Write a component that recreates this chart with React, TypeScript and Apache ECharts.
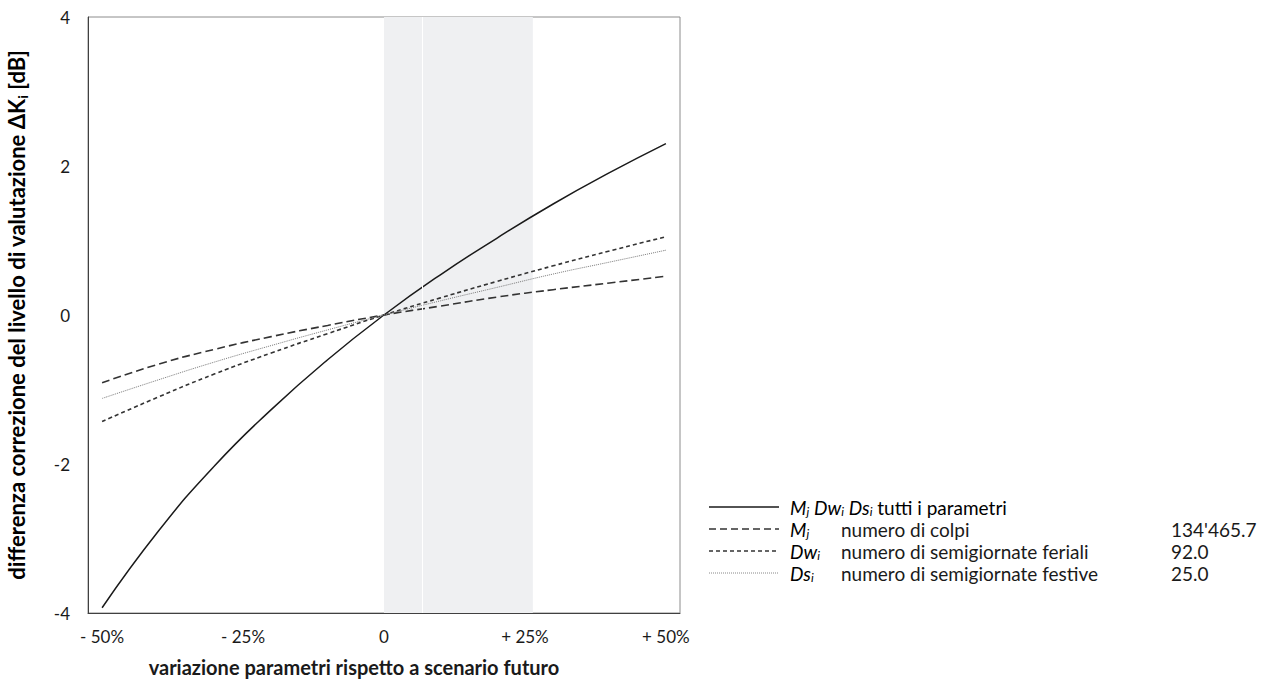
import React, { useEffect, useRef } from "react";
import * as echarts from "echarts";

const xValues = [-50, -40, -30, -20, -10, 0, 10, 20, 30, 40, 50];
const allParams = [-3.93, -2.9, -2.02, -1.27, -0.6, 0, 0.54, 1.03, 1.49, 1.91, 2.3];
const mjValues = [-0.91, -0.66, -0.46, -0.29, -0.14, 0, 0.12, 0.24, 0.34, 0.43, 0.52];
const dwValues = [-1.43, -1.1, -0.79, -0.51, -0.25, 0, 0.23, 0.45, 0.66, 0.86, 1.05];
const dsValues = [-1.12, -0.87, -0.63, -0.41, -0.2, 0, 0.19, 0.37, 0.55, 0.71, 0.87];
const xTicks = [-50, -25, 0, 25, 50];
const xTickLabels = ["- 50%", "- 25%", "0", "+ 25%", "+ 50%"];
const bandRange = [0, 26.4];
const bandDivider = 6.7;
const legendValues = ["", "134'465.7", "92.0", "25.0"];

const FONT = "Lato, 'Open Sans', sans-serif";
const LF = 19;

export default function App() {
  const ref = useRef<HTMLDivElement>(null);
  useEffect(() => {
    if (!ref.current) return;
    const chart = echarts.init(ref.current, null, { renderer: "svg" });
    const pts = (ys: number[]) => xValues.map((x, i) => [x, ys[i]]);
    const rich = {
      it: { fontStyle: "italic", fontSize: LF, fontFamily: FONT, color: "#1a1a1a", lineHeight: 20, verticalAlign: "middle" },
      sub: { fontStyle: "italic", fontSize: 12, fontFamily: FONT, color: "#1a1a1a", lineHeight: 6, verticalAlign: "bottom" },
      n: { fontSize: LF, fontFamily: FONT, color: "#1a1a1a", lineHeight: 20, verticalAlign: "middle" },
    };
    const rowY = [507, 529, 551, 573];
    const lineStyles = [
      { stroke: "#1a1a1a", lineWidth: 1.3, lineDash: null },
      { stroke: "#333", lineWidth: 1.3, lineDash: [7, 4] },
      { stroke: "#333", lineWidth: 1.3, lineDash: [4, 3] },
      { stroke: "#888", lineWidth: 1, lineDash: [1, 1] },
    ];
    const symbols = [
      "{it|M}{sub|j}{n| }{it|Dw}{sub|i}{n| }{it|Ds}{sub|i}{n| tutti i parametri}",
      "{it|M}{sub|j}",
      "{it|Dw}{sub|i}",
      "{it|Ds}{sub|i}",
    ];
    const descs = ["", "numero di colpi", "numero di semigiornate feriali", "numero di semigiornate festive"];
    const legendEls: any[] = [];
    rowY.forEach((y, i) => {
      legendEls.push({
        type: "line",
        shape: { x1: 709, y1: y, x2: 779, y2: y },
        style: { ...lineStyles[i], lineDash: lineStyles[i].lineDash || undefined },
      });
      legendEls.push({
        type: "text",
        x: 790,
        y: y,
        style: { text: symbols[i], rich, verticalAlign: "middle", align: "left" },
      });
      if (descs[i]) {
        legendEls.push({
          type: "text",
          x: 841,
          y: y,
          style: { text: descs[i], fontSize: LF, fontFamily: FONT, fill: "#1a1a1a", verticalAlign: "middle" },
        });
      }
      if (legendValues[i]) {
        legendEls.push({
          type: "text",
          x: 1171,
          y: y,
          style: { text: legendValues[i], fontSize: LF, fontFamily: FONT, fill: "#1a1a1a", verticalAlign: "middle" },
        });
      }
    });

    const lineSeries = (name: string, data: number[], color: string, width: number, type: any) => ({
      name,
      type: "line",
      data: pts(data),
      smooth: true,
      showSymbol: false,
      z: 3,
      lineStyle: { color, width, type },
    });

    chart.setOption({
      animation: false,
      backgroundColor: "#fff",
      grid: { left: 88, right: 590, top: 17, bottom: 68, show: true, borderColor: "#8c8c8c", borderWidth: 1 },
      xAxis: {
        type: "value",
        min: -52.5,
        max: 52.5,
        axisLine: { show: true, onZero: false, lineStyle: { color: "#404040" } },
        axisTick: { show: false },
        splitLine: { show: false },
        axisLabel: {
          customValues: xTicks,
          formatter: (v: number) => {
            const i = xTicks.indexOf(Math.round(v));
            return i >= 0 ? xTickLabels[i] : "";
          },
          fontSize: 17,
          fontFamily: FONT,
          color: "#1a1a1a",
          margin: 15,
        },
      },
      yAxis: {
        type: "value",
        min: -4,
        max: 4,
        interval: 2,
        axisLine: { show: true, onZero: false, lineStyle: { color: "#404040" } },
        axisTick: { show: false },
        splitLine: { show: false },
        axisLabel: { fontSize: 17, fontFamily: FONT, color: "#1a1a1a", margin: 18 },
      },
      series: [
        {
          type: "line",
          data: [],
          z: 1,
          markArea: {
            silent: true,
            itemStyle: { color: "#eff0f2" },
            data: [[{ xAxis: bandRange[0] }, { xAxis: bandRange[1] }]],
          },
          markLine: {
            silent: true,
            symbol: "none",
            label: { show: false },
            lineStyle: { color: "#ffffff", width: 1, type: "solid" },
            data: [{ xAxis: bandDivider }],
          },
        },
        lineSeries("M Dw Ds", allParams, "#1a1a1a", 1.5, "solid"),
        lineSeries("M", mjValues, "#333333", 1.6, [8, 4]),
        lineSeries("Dw", dwValues, "#333333", 1.6, [4, 3]),
        lineSeries("Ds", dsValues, "#7a7a7a", 1, [1, 1]),
      ],
      graphic: [
        {
          type: "text",
          x: 16,
          y: 315,
          rotation: Math.PI / 2,
          style: {
            text: "{b|differenza correzione del livello di valutazione ΔK}{bs|i}{b| [dB]}",
            align: "center",
            verticalAlign: "middle",
            rich: {
              b: { fontSize: 22, fontWeight: "bold", fontFamily: FONT, color: "#1a1a1a", lineHeight: 26, verticalAlign: "middle" },
              bs: { fontSize: 14, fontWeight: "bold", fontFamily: FONT, color: "#1a1a1a", lineHeight: 10, verticalAlign: "bottom" },
            },
          },
        },
        {
          type: "text",
          x: 354,
          y: 667,
          style: {
            text: "variazione parametri rispetto a scenario futuro",
            fontSize: 20,
            fontWeight: "bold",
            fontFamily: FONT,
            fill: "#1a1a1a",
            align: "center",
            verticalAlign: "middle",
          },
        },
        ...legendEls,
      ],
    });
    return () => chart.dispose();
  }, []);
  return <div ref={ref} style={{ width: 1270, height: 681, position: "absolute", left: 0, top: 0 }} />;
}
